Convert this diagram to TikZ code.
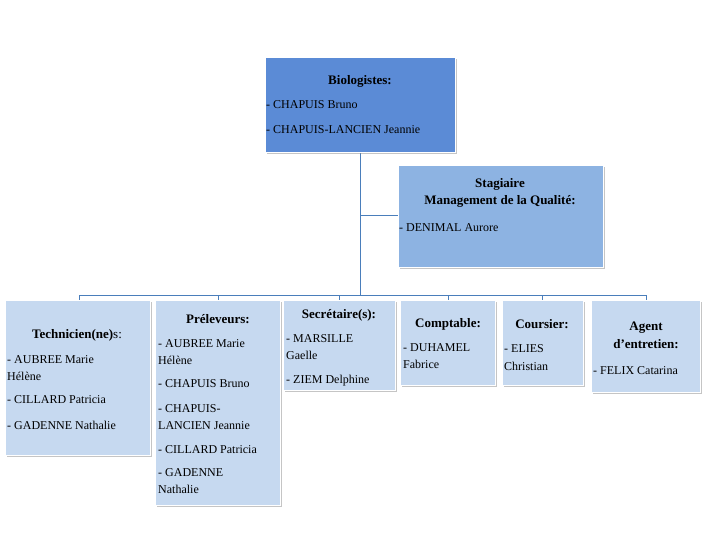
\documentclass[tikz,border=0pt]{standalone}
\usepackage{fontspec}
\setmainfont{Liberation Serif}
\usetikzlibrary{shadows}
\definecolor{bdark}{HTML}{5B8BD6}
\definecolor{bmid}{HTML}{8DB3E2}
\definecolor{bpale}{HTML}{C6D9F0}
\definecolor{lineb}{HTML}{4A7EBB}
\begin{document}
\begin{tikzpicture}[x=1pt,y=-1pt,
  box/.style={draw=white,line width=0.8pt,anchor=north west,inner sep=0,drop shadow={shadow xshift=2pt,shadow yshift=-2pt,fill=black!45}},
  ttl/.style={font=\fontsize{13}{15}\selectfont\bfseries,inner sep=0,anchor=base},
  itm/.style={font=\fontsize{12}{14}\selectfont,inner sep=0,anchor=base west},
  conn/.style={draw=lineb,line width=0.9pt}]
\useasboundingbox (0,0) rectangle (720,540);
\def\bx#1#2#3#4#5#6{\node[box,fill=#6,minimum width=#4-#2,minimum height=#5-#3] (#1) at (#2,#3) {};}
% connectors first
\coordinate (h1) at (79,295); \coordinate (h2) at (646,295);
\coordinate (v0) at (360,295); \coordinate (vs) at (360,215);
\draw[conn] (360,152) -- (v0);
\draw[conn] (vs) -- (398,215);
\draw[conn] (h1) -- (h2);
\foreach \x in {79,218,339,448,542,646}{\draw[conn] (\x,295) -- (\x,300);}
\bx{bio}{265}{57}{455}{152}{bdark}
\bx{stg}{398}{165}{603}{267}{bmid}
\bx{tec}{5}{300}{150}{455}{bpale}
\bx{pre}{155}{300}{280}{505}{bpale}
\bx{sec}{283}{300}{395}{390}{bpale}
\bx{cpt}{400}{300}{495}{385}{bpale}
\bx{cou}{502}{300}{583}{385}{bpale}
\bx{age}{591}{300}{700}{392}{bpale}
% texts
\node[ttl] (t1) at (360,85) {Biologistes:};
\node[itm] (a1) at (266,109) {- CHAPUIS Bruno};
\node[itm] (a2) at (266,134) {- CHAPUIS-LANCIEN Jeannie};
\node[ttl] (t2) at (500,188) {Stagiaire};
\node[ttl] (t2b) at (500,205) {Management de la Qualité:};
\node[itm] (b1) at (399,231) {- DENIMAL Aurore};
\node[ttl] (t3) at (77,338) {Technicien(ne)\textmd{s:}};
\node[itm] (c1) at (7,363) {- AUBREE Marie};
\node[itm] (c2) at (7,380) {Hélène};
\node[itm] (c3) at (7,403) {- CILLARD Patricia};
\node[itm] (c4) at (7,429) {- GADENNE Nathalie};
\node[ttl] (t4) at (218,323) {Préleveurs:};
\node[itm] (d1) at (158,347) {- AUBREE Marie};
\node[itm] (d2) at (158,364) {Hélène};
\node[itm] (d3) at (158,387) {- CHAPUIS Bruno};
\node[itm] (d4) at (158,412) {- CHAPUIS-};
\node[itm] (d5) at (158,429) {LANCIEN Jeannie};
\node[itm] (d6) at (158,453) {- CILLARD Patricia};
\node[itm] (d7) at (158,476) {- GADENNE};
\node[itm] (d8) at (158,493) {Nathalie};
\node[ttl] (t5) at (339,318) {Secrétaire(s):};
\node[itm] (e1) at (286,342) {- MARSILLE};
\node[itm] (e2) at (286,359) {Gaelle};
\node[itm] (e3) at (286,383) {- ZIEM Delphine};
\node[ttl] (t6) at (448,327) {Comptable:};
\node[itm] (f1) at (403,351) {- DUHAMEL};
\node[itm] (f2) at (403,368) {Fabrice};
\node[ttl] (t7) at (542,328) {Coursier:};
\node[itm] (g1) at (504,352) {- ELIES};
\node[itm] (g2) at (504,370) {Christian};
\node[ttl] (t8) at (646,330) {Agent};
\node[ttl] (t8b) at (646,348) {d'entretien:};
\node[itm] (h1t) at (593,374) {- FELIX Catarina};
\end{tikzpicture}
\end{document}
